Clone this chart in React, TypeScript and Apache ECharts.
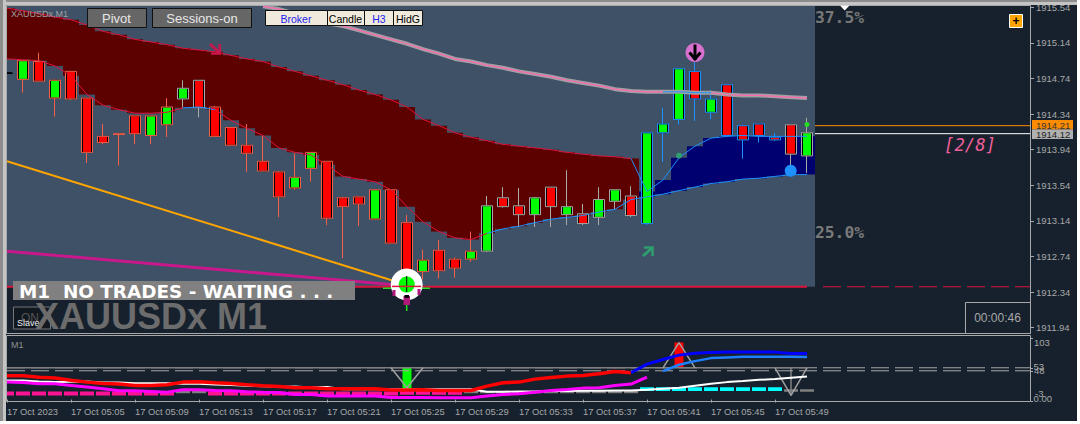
import React, { useEffect, useRef } from "react";
import * as echarts from "echarts";

const tickLabels = ["17 Oct 2023", "17 Oct 05:05", "17 Oct 05:09", "17 Oct 05:13", "17 Oct 05:17", "17 Oct 05:21", "17 Oct 05:25", "17 Oct 05:29", "17 Oct 05:33", "17 Oct 05:37", "17 Oct 05:41", "17 Oct 05:45", "17 Oct 05:49"];
const priceTicks = [1911.94, 1912.34, 1912.74, 1913.14, 1913.54, 1913.94, 1914.34, 1914.74, 1915.14, 1915.54];

const opens = [1914.80, 1914.73, 1914.93, 1914.52, 1914.82, 1914.52, 1914.09, 1914.12, 1914.32, 1914.10, 1914.22, 1914.51, 1914.72, 1914.42, 1914.19, 1913.99, 1913.81, 1913.69, 1913.51, 1913.73, 1913.81, 1913.40, 1913.41, 1913.16, 1913.49, 1913.12, 1912.57, 1912.81, 1912.71, 1912.71, 1912.80, 1913.40, 1913.31, 1913.21, 1913.52, 1913.21, 1913.22, 1913.18, 1913.36, 1913.42, 1913.11, 1914.13, 1914.28, 1914.82, 1914.36, 1914.67, 1914.21, 1914.23, 1914.08, 1914.22, 1913.87];
const closes = [1914.80, 1914.94, 1914.71, 1914.72, 1914.51, 1913.91, 1914.02, 1914.11, 1914.12, 1914.32, 1914.42, 1914.63, 1914.41, 1914.09, 1913.99, 1913.90, 1913.70, 1913.41, 1913.63, 1913.91, 1913.17, 1913.30, 1913.33, 1913.49, 1912.89, 1912.52, 1912.70, 1912.58, 1912.61, 1912.80, 1913.31, 1913.30, 1913.21, 1913.40, 1913.30, 1913.30, 1913.11, 1913.38, 1913.49, 1913.20, 1914.13, 1914.23, 1914.85, 1914.51, 1914.51, 1914.10, 1914.05, 1914.10, 1914.05, 1913.89, 1914.13];
const highs = [1914.91, 1914.94, 1915.03, 1914.73, 1914.82, 1914.52, 1914.23, 1914.12, 1914.32, 1914.32, 1914.52, 1914.72, 1914.72, 1914.43, 1914.19, 1914.23, 1914.10, 1913.70, 1913.90, 1913.91, 1913.81, 1913.41, 1913.41, 1913.50, 1913.49, 1913.21, 1912.82, 1912.93, 1912.73, 1913.02, 1913.42, 1913.52, 1913.51, 1913.41, 1913.52, 1913.71, 1913.33, 1913.52, 1913.49, 1913.53, 1914.13, 1914.41, 1914.85, 1914.98, 1914.61, 1914.67, 1914.22, 1914.23, 1914.13, 1914.22, 1914.30];
const lows = [1914.80, 1914.58, 1914.71, 1914.31, 1914.50, 1913.79, 1914.00, 1913.76, 1914.00, 1914.00, 1914.08, 1914.41, 1914.30, 1914.09, 1913.99, 1913.69, 1913.70, 1913.18, 1913.49, 1913.58, 1913.09, 1912.72, 1913.08, 1913.16, 1912.89, 1912.44, 1912.48, 1912.49, 1912.50, 1912.68, 1912.79, 1913.29, 1913.07, 1913.07, 1913.07, 1913.09, 1913.09, 1913.09, 1913.27, 1913.18, 1913.09, 1913.80, 1914.22, 1914.26, 1914.28, 1914.10, 1913.84, 1914.02, 1914.04, 1913.68, 1913.68];

const cloudUpper = [1915.53, 1915.50, 1915.47, 1915.43, 1915.40, 1915.34, 1915.27, 1915.23, 1915.18, 1915.15, 1915.12, 1915.08, 1915.06, 1915.04, 1915.00, 1914.96, 1914.93, 1914.87, 1914.82, 1914.77, 1914.72, 1914.67, 1914.61, 1914.56, 1914.50, 1914.42, 1914.28, 1914.21, 1914.13, 1914.08, 1914.04, 1914.00, 1913.98, 1913.96, 1913.94, 1913.91, 1913.89, 1913.87, 1913.86, 1913.84];
const cloudLower = [1914.96, 1914.95, 1914.94, 1914.88, 1914.77, 1914.56, 1914.44, 1914.39, 1914.35, 1914.35, 1914.36, 1914.41, 1914.42, 1914.39, 1914.27, 1914.18, 1914.10, 1913.96, 1913.91, 1913.88, 1913.77, 1913.64, 1913.61, 1913.58, 1913.49, 1913.30, 1913.13, 1913.02, 1912.95, 1912.93, 1913.00, 1913.05, 1913.08, 1913.12, 1913.16, 1913.18, 1913.20, 1913.24, 1913.27, 1913.38];
const blueUpper = [1913.47, 1913.60, 1913.85, 1913.98, 1914.07, 1914.09, 1914.10, 1914.09, 1914.09, 1914.09, 1914.09];
const blueLower = [1913.41, 1913.44, 1913.48, 1913.52, 1913.56, 1913.58, 1913.61, 1913.62, 1913.64, 1913.66, 1913.66];
const slowMA = [null, null, null, null, null, null, null, null, null, null, null, null, null, null, null, null, 1915.55, 1915.52, 1915.47, 1915.41, 1915.36, 1915.33, 1915.28, 1915.23, 1915.18, 1915.13, 1915.07, 1915.02, 1914.96, 1914.93, 1914.89, 1914.86, 1914.82, 1914.79, 1914.76, 1914.72, 1914.69, 1914.66, 1914.62, 1914.60, 1914.59, 1914.59, 1914.59, 1914.58, 1914.58, 1914.56, 1914.55, 1914.55, 1914.54, 1914.53, 1914.52];
const magentaTrend = [1912.80, 1912.41];
const orangeTrend = [1913.81, 1912.42];
const supportLevel = 1912.40;
const askPrice = 1914.21;
const bidPrice = 1914.12;

const subRed = [39.7, 39.7, 37.4, 35.8, 32.4, 29.1, 26.9, 25.8, 23.6, 23.6, 24.7, 29.1, 29.7, 28, 26.9, 24.7, 23, 21.9, 19.7, 19.7, 18, 18, 18, 18, 15.8, 15.8, 16.3, 15.2, 15.2, 15.2, 22.4, 28, 29.1, 34.1, 36.9, 39.1, 40.2, 43, 46.9, 44.7];
const subBlue = [44.7, 59.1, 66.9, 74.1, 77.4, 78.6, 79.1, 79.1, 79.1, 79.1, 76.9, 76.9];
const subSky = [47.4, 58, 64.1, 69.1, 70.2, 71.3, 71.3, 71.3, 71.3, 70.8];
const subMagenta = [29.1, 28.6, 26.3, 26.3, 23.6, 20.8, 18, 14.7, 14.7, 13.6, 12.4, 16.3, 16.3, 15.2, 14.7, 13, 12.4, 11.9, 8.6, 8.6, 5.8, 5.8, 5.8, 5.8, 3.6, 3.6, 3.6, 3, 3, 3, 5.8, 8.6, 9.7, 12.4, 15.2, 16.9, 19.1, 19.7, 23.6, 25.8, 37.4];
const subWhite = [31.9, 31.9, 30.2, 29.1, 29.7, 30.2, 28.6, 28.6, 27.4, 27.4, 27.4, 26.3, 26.3, 25.2, 24.1, 23, 22.4, 20.8, 21.9, 20.2, 20.8, 17.4, 17.4, 17.4, 17.4, 17.4, 17.4, 17.4, 17.4, 17.4, 13, 13, 13.6, 13.6, 14.1, 14.1, 14.7, 14.7, 15.2, 15.2, 16.3, 18, 19.7, 23, 26.3, 29.1, 30.8, 33, 34.1, 36.3, 38.6];
const subHisto = [10.2, 10.2, 10.2, 10.2, 10.2, 10.2, 10.2, 10.2, 10.2, 10.2, 10.2, 12.4, 12.4, 10.2, 10.2, 10.2, 10.2, 10.2, 10.2, 10.2, 10.2, 10.2, 10.2, 10.2, 10.2, 11.3, 11.3, 11.3, 11.3, 12.4, 12.4, 12.4, 12.4, 12.4, 12.4, 12.4, 12.4, 12.4, 12.4, 12.4, 17.4, 17.4, 17.4, 17.4, 17.4, 17.4, 17.4, 17.4, 17.4, 15.2, 15.2];
const spikeA = [53, 19.7, 53];
const spikeB = [53, 95, 53];
const spikeC = [53, 6.9, 53];
const subLevels = [53, 48];

const SLOTS = 65;
const cats = Array.from({ length: SLOTS }, (_, i) => String(i));
const FONT = '"Liberation Sans", Arial, sans-serif';
const MONO = '"DejaVu Sans Mono", monospace';
const CRIMSON = "#dc143c";
const DODGER = "#1e90ff";

function seg(arr: (number | null)[], from: number, to: number, offset = 0) {
  return Array.from({ length: SLOTS }, (_, i) => {
    const v = arr[i - offset];
    return i >= from && i <= to && v !== undefined ? v : null;
  });
}
function flat(v: number, from: number, to: number) {
  return Array.from({ length: SLOTS }, (_, i) => (i >= from && i <= to ? v : null));
}
function ends(pair: number[], i0: number, i1: number) {
  return Array.from({ length: SLOTS }, (_, i) => (i === i0 ? pair[0] : i === i1 ? pair[1] : null));
}
function haloColor(i: number) {
  if (i === 0) return "#000000";
  if (i === 11 || i === 12) return "#a9a9a9";
  if (i <= 29) return "#f4604a";
  if (i <= 39) return "#a9a9a9";
  if (i <= 48) return DODGER;
  return "#a9a9a9";
}
function histoColor(i: number) {
  if (i === 11 || i === 12) return "#808080";
  if (i <= 28) return "#ff1493";
  if (i <= 39) return "#808080";
  if (i <= 48) return "#00ffff";
  return "#808080";
}

// rects spanning [value1, value2] at a category slot, drawn through the axes' scales
function bandSeries(name: string, rows: number[][], fill: string, width: number | null, axis = 0) {
  return {
    type: "custom", name, xAxisIndex: axis, yAxisIndex: axis, clip: true, silent: true,
    encode: { x: 0, y: [1, 2] }, data: rows,
    renderItem: (_: any, api: any) => {
      const i = api.value(0);
      const a = api.coord([i, api.value(1)]);
      const b = api.coord([i, api.value(2)]);
      const w = width ?? api.size([1, 0])[0];
      return { type: "rect", shape: { x: a[0] - w / 2, y: a[1], width: w, height: b[1] - a[1] }, style: { fill } };
    },
  };
}
function lineSeries(name: string, data: any[], color: string, width: number, axis = 0, dash?: any, connectNulls = false) {
  return {
    type: "line", name, data, xAxisIndex: axis, yAxisIndex: axis, showSymbol: false, symbol: "none",
    connectNulls, silent: true, lineStyle: { color, width, type: dash ?? "solid" },
  };
}
// horizontal price segment from the right edge of the last bar to the right end of the plot
function edgeLine(name: string, value: number, color: string) {
  return {
    type: "custom", name, xAxisIndex: 0, yAxisIndex: 0, clip: true, silent: true,
    encode: { x: 0, y: 1 }, data: [[50, value, SLOTS - 1]],
    renderItem: (_: any, api: any) => {
      const a = api.coord([api.value(0), api.value(1)]);
      const b = api.coord([api.value(2), api.value(1)]);
      return { type: "line", shape: { x1: a[0] + 8, y1: a[1], x2: b[0], y2: a[1] }, style: { stroke: color, lineWidth: 1 } };
    },
  };
}

function txt(text: string, x: number, y: number, font: string, fill: string, align = "left", z = 100) {
  return { type: "text", x, y, z, silent: true, style: { text, font, fill, align, textAlign: align, verticalAlign: "middle", textVerticalAlign: "middle" } };
}
function box(x: number, y: number, w: number, h: number, fill: string, stroke?: string, z = 99) {
  return { type: "rect", z, silent: true, shape: { x, y, width: w, height: h }, style: { fill, stroke: stroke ?? "none", lineWidth: stroke ? 1 : 0 } };
}
function poly(points: number[][], stroke: string, lineWidth: number, z = 100) {
  return { type: "polyline", z, silent: true, shape: { points }, style: { stroke, lineWidth, fill: "none" } };
}
function dot(cx: number, cy: number, r: number, fill: string, z = 100) {
  return { type: "circle", z, silent: true, shape: { cx, cy, r }, style: { fill } };
}

const graphics: any[] = [
  // window chrome
  box(0, 0, 1080, 2, "#8c8c8c", undefined, 120), box(0, 2, 1080, 3, "#c4c4c4", undefined, 120),
  box(0, 0, 3, 424, "#8c8c8c", undefined, 120), box(3, 0, 3, 424, "#c4c4c4", undefined, 120),
  box(1077, 0, 3, 424, "#ffffff", undefined, 121), box(0, 421, 1080, 3, "#ffffff", undefined, 121),
  box(6.5, 5.5, 1024, 328, "none", "#a8a8a8", 98), box(6.5, 335.5, 1024, 66, "none", "#a8a8a8", 98),
  // top-left labels and buttons
  txt("XAUUSDx,M1", 11, 13.5, `9px ${FONT}`, "#a0a0a0"),
  box(87.5, 8.5, 59, 19, "#666666", "#111111"), txt("Pivot", 116.5, 18.5, `13px ${FONT}`, "#e6e6e6", "center"),
  box(152.5, 8.5, 99, 19, "#666666", "#111111"), txt("Sessions-on", 202, 18.5, `13px ${FONT}`, "#e6e6e6", "center"),
  box(265.5, 10.5, 62, 15, "#efeadb", "#111111"), txt("Broker", 296, 18.5, `10.5px ${FONT}`, "#2222ee", "center"),
  box(327.5, 10.5, 37, 15, "#efeadb", "#111111"), txt("Candle", 345.5, 18.5, `10.5px ${FONT}`, "#000000", "center"),
  box(364.5, 10.5, 29, 15, "#efeadb", "#111111"), txt("H3", 379, 18.5, `10.5px ${FONT}`, "#2222ee", "center"),
  box(393.5, 10.5, 29, 15, "#efeadb", "#111111"), txt("HidG", 408, 18.5, `10.5px ${FONT}`, "#000000", "center"),
  // arrows and markers
  poly([[210, 44], [220, 53]], "#c8174c", 3), poly([[219.5, 44], [220, 53.5], [211, 53.5]], "#c8174c", 2.5),
  poly([[643, 256], [652, 248]], "#2e9e6e", 3), poly([[644, 247.5], [652.5, 247.5], [652.5, 256]], "#2e9e6e", 2.5),
  dot(695, 52.5, 9.5, "#d870d0"), poly([[695, 44.5], [695, 60]], "#000000", 3, 101), poly([[689.5, 52.5], [695, 59], [700.5, 52.5]], "#000000", 3, 101),
  dot(679, 155.7, 3, "#2e9e6e"), dot(807, 124.5, 2.5, "#22dd22"), dot(790.7, 170.7, 6, DODGER),
  { type: "polygon", z: 100, silent: true, shape: { points: [[840, 5.5], [849.5, 5.5], [844.7, 10.5]] }, style: { fill: "#ffffff" } },
  txt("37.5%", 815, 17, `bold 16.3px ${MONO}`, "#777777"),
  txt("25.0%", 815, 232, `bold 16.3px ${MONO}`, "#7a7a7a"),
  txt("[2/8]", 944, 145, `italic 17.3px ${MONO}`, "#ee5f98"),
  box(1009.5, 14.5, 13, 13, "#ffa500", "#ffffff"), txt("+", 1016, 21, `bold 12px ${FONT}`, "#000000", "center"),
  // price tags
  box(1032, 120, 41, 9.5, "#ff8c00", undefined, 101), txt("1914.21", 1036, 125, `9.5px ${FONT}`, "#333333", "left", 102),
  box(1032, 129.5, 41, 9.5, "#b0b0b0", undefined, 101), txt("1914.12", 1036, 134, `9.5px ${FONT}`, "#222222", "left", 102),
  // countdown
  box(965.5, 302.5, 65, 31, "#16212d", "#a8a8a8"), txt("00:00:46", 997.5, 318, `12px ${FONT}`, "#a8a8a8", "center"),
  // status labels
  box(13, 281, 342, 19, "#808080", undefined, 100), txt("M1  NO TRADES - WAITING . . .", 19, 291, `bold 18.4px "DejaVu Sans", ${FONT}`, "#ffffff", "left", 101),
  box(13.5, 307, 37, 22, "#111820", "#777777", 100), txt("ON", 30, 317.5, `12px ${FONT}`, "#555555", "center", 101), txt("Slave", 17, 323, `9px ${FONT}`, "#eeeeee", "left", 101),
  txt("XAUUSDx M1", 35, 316, `bold 36px ${FONT}`, "#6c6c6c", "left", 102),
  // bullseye
  poly([[383, 288.3], [430, 288.3]], "#22dd22", 1.5, 103),
  dot(406.7, 284.5, 16, "#ffffff", 104), dot(406.7, 284.5, 8, "#00ff00", 105),
  poly([[406.7, 276], [406.7, 292]], "#000000", 1, 106), poly([[392, 286.4], [421, 286.4]], CRIMSON, 1.5, 106),
  poly([[394, 290], [394, 296]], "#b0187c", 3, 105), poly([[419, 289], [419, 295]], "#b0187c", 3, 105),
  box(403.5, 296, 6.5, 9, "#b0187c", undefined, 105), box(404.5, 295, 4.5, 3, "#000000", undefined, 106),
  poly([[406.7, 305], [406.7, 311]], "#22dd22", 1.5, 105),
  // sub-window labels
  txt("M1", 11, 344.5, `9px ${FONT}`, "#909090"),
  txt("103", 1034, 342, `9.5px ${FONT}`, "#a8a8a8"),
  txt("53", 1033.5, 366.8, `9.5px ${FONT}`, "#a8a8a8"),
  txt("-3", 1035, 393.5, `9.5px ${FONT}`, "#a8a8a8"),
  txt("0.00", 1033.5, 398, `9.5px ${FONT}`, "#a8a8a8"),
];

export default function App() {
  const ref = useRef<HTMLDivElement>(null);
  useEffect(() => {
    document.body.style.margin = "0";
    const chart = echarts.init(ref.current!, undefined, { renderer: "svg" });
    const ohlc = opens.map((o, i) => [o, closes[i], lows[i], highs[i]]);
    const blueStart = 40;
    const axisLabel = { color: "#a8a8a8", fontFamily: FONT, fontSize: 9.5, hideOverlap: false };
    chart.setOption({
      animation: false,
      backgroundColor: "#16212d",
      grid: [
        { left: 7, top: 5.5, width: 1024, height: 328 },
        { left: 7, top: 335.5, width: 1024, height: 66 },
      ],
      xAxis: [
        { type: "category", gridIndex: 0, data: cats, boundaryGap: false, axisLine: { show: false }, axisTick: { show: false }, axisLabel: { show: false }, splitLine: { show: false } },
        {
          type: "category", gridIndex: 1, data: cats, boundaryGap: false, position: "bottom",
          axisLine: { show: false },
          axisTick: { show: true, length: 3, interval: (i: number) => i % 4 === 0 && i <= 48, lineStyle: { color: "#a8a8a8" } },
          axisLabel: { ...axisLabel, align: "left", margin: 5, interval: (i: number) => i % 4 === 0 && i <= 48, formatter: (_: string, i: number) => tickLabels[i / 4] ?? "", fontSize: 9.4 },
          splitLine: { show: false },
        },
      ],
      yAxis: [
        {
          type: "value", gridIndex: 0, position: "right", min: 1911.875, max: 1915.56, scale: true,
          axisLine: { show: false }, splitLine: { show: false },
          axisTick: { show: true, length: 3, customValues: priceTicks, lineStyle: { color: "#a8a8a8" } },
          axisLabel: { ...axisLabel, margin: 5, customValues: priceTicks, formatter: (v: number) => v.toFixed(2) },
        },
        {
          type: "value", gridIndex: 1, position: "right", min: -3.2, max: 106.8, scale: true,
          axisLine: { show: false }, splitLine: { show: false },
          axisTick: { show: true, length: 2, customValues: [103, 53, 48, -3], lineStyle: { color: "#a8a8a8" } },
          axisLabel: { ...axisLabel, margin: 3, customValues: [subLevels[1]], formatter: (v: number) => String(v) },
        },
      ],
      graphic: { elements: graphics },
      series: [
        // lighter plot backdrop, ending at the support level and the last bar
        {
          type: "custom", name: "backdrop", xAxisIndex: 0, yAxisIndex: 0, clip: true, silent: true,
          encode: { x: 0, y: 1 }, data: [[0, 1915.56, 50, supportLevel]],
          renderItem: (_: any, api: any) => {
            const a = api.coord([api.value(0), api.value(1)]);
            const b = api.coord([api.value(2), api.value(3)]);
            return { type: "rect", shape: { x: a[0], y: a[1], width: b[0] + 8 - a[0], height: b[1] - a[1] }, style: { fill: "#3e5166" } };
          },
        },
        bandSeries("bear cloud", cloudUpper.map((u, i) => [i, u, cloudLower[i]]), "#5c0000", null),
        bandSeries("bull cloud", blueUpper.map((u, i) => [i + blueStart, u, blueLower[i]]), "#000070", null),
        lineSeries("cloud upper", seg(cloudUpper, 0, 39), CRIMSON, 1),
        lineSeries("cloud lower a", seg(cloudLower, 0, 11), CRIMSON, 1),
        lineSeries("cloud lower b", seg(cloudLower, 11, 13), DODGER, 1),
        lineSeries("cloud lower c", seg(cloudLower, 13, 30), CRIMSON, 1),
        lineSeries("cloud lower d", seg(cloudLower, 30, 39), DODGER, 1),
        lineSeries("bull upper", seg([cloudUpper[39], ...blueUpper], 39, 50, 39), DODGER, 1),
        lineSeries("bull lower", seg([cloudLower[39], ...blueLower], 39, 50, 39), DODGER, 1),
        lineSeries("slow ma halo", slowMA, "#a0a0a0", 4),
        lineSeries("slow ma", seg(slowMA, 0, 41), "#ff69b4", 1.2),
        lineSeries("slow ma turn", seg(slowMA, 41, 44), DODGER, 1),
        lineSeries("slow ma end", seg(slowMA, 44, 50), "#ff69b4", 1.2),
        lineSeries("magenta trend", ends(magentaTrend, 0, 25), "#c8188c", 3, 0, undefined, true),
        lineSeries("orange trend", ends(orangeTrend, 0, 25), "#ffa500", 2, 0, undefined, true),
        lineSeries("support", flat(supportLevel, 0, 50), CRIMSON, 2),
        lineSeries("support ahead", flat(supportLevel, 51, SLOTS - 1), CRIMSON, 1, 0, [18, 6]),
        edgeLine("ask", askPrice, "#ff8c00"),
        edgeLine("bid", bidPrice, "#ffffff"),
        {
          type: "candlestick", name: "bodies", xAxisIndex: 0, yAxisIndex: 0, data: ohlc, barWidth: 10, silent: true,
          itemStyle: { color: "#00ff00", color0: "#ff0000", borderColor: "#000000", borderColor0: "#000000", borderWidth: 1 },
        },
        {
          type: "candlestick", name: "outline", xAxisIndex: 0, yAxisIndex: 0, barWidth: 12, silent: true,
          data: ohlc.map((v, i) => ({ value: v, itemStyle: { color: "transparent", color0: "transparent", borderColor: haloColor(i), borderColor0: haloColor(i), borderWidth: 1 } })),
        },
        // sub-window
        ...subLevels.map((lv) => lineSeries(`level ${lv}`, flat(lv, 0, SLOTS - 1), "#a8a8a8", 1, 1, [18, 6])),
        lineSeries("level solid", flat(subLevels[0], 0, 50), "#808080", 1.5, 1),
        bandSeries("histo pink", subHisto.map((v, i) => [i, v + 3.2, v - 3.2]).filter((r) => histoColor(r[0]) === "#ff1493"), "#ff1493", 14, 1),
        bandSeries("histo gray", subHisto.map((v, i) => [i, v + 2, v - 2]).filter((r) => histoColor(r[0]) === "#808080"), "#808080", 14, 1),
        bandSeries("buy bar", [[25, 53, 17.4]], "#00ff00", 9, 1),
        bandSeries("sell bar", [[42, 95, 53]], "#ff0000", 9, 1),
        lineSeries("spikes a", seg(spikeA, 24, 26, 24), "#a0a0a0", 1.5, 1),
        lineSeries("spikes b", seg(spikeB, 41, 43, 41), "#a0a0a0", 1.5, 1),
        lineSeries("spikes c", seg(spikeC, 48, 50, 48), "#a0a0a0", 1.5, 1),
        bandSeries("spike stem", [[49, 53, 6.9]], "#808080", 1.5, 1),
        lineSeries("white", seg(subWhite, 0, 50), "#ffffff", 2, 1),
        bandSeries("histo cyan", subHisto.map((v, i) => [i, v + 3.2, v - 3.2]).filter((r) => histoColor(r[0]) === "#00ffff"), "#00ffff", 14, 1),
        lineSeries("magenta", seg(subMagenta, 0, 40), "#ff00ff", 3, 1),
        lineSeries("red", seg(subRed, 0, 39), "#ff0000", 3.5, 1),
        lineSeries("sky", seg(subSky, 41, 50, 41), "#1e80ff", 2.5, 1),
        lineSeries("blue", seg(subBlue, 39, 50, 39), "#0000ff", 3, 1),
      ],
    });
    return () => chart.dispose();
  }, []);
  return <div ref={ref} style={{ width: 1080, height: 424, position: "fixed", left: 0, top: 0 }} />;
}
